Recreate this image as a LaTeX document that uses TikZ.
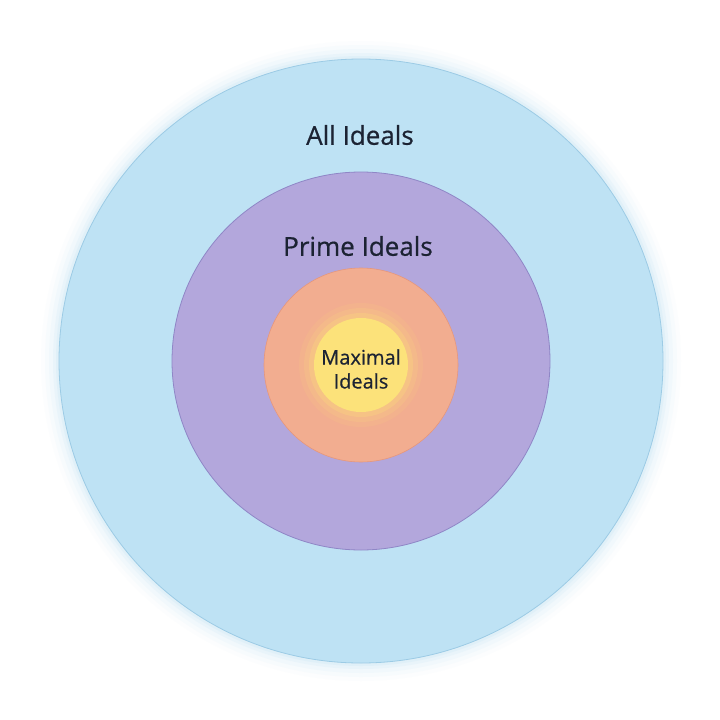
\documentclass[tikz,border=0pt]{standalone}
\usepackage{fontspec}
\setmainfont{Open Sans}[FakeBold=0.6]
\newfontfamily\lblfont{Open Sans}[FakeBold=0.6]
\definecolor{outerfill}{HTML}{BEE2F4}
\definecolor{outerline}{HTML}{9CCBE5}
\definecolor{primefill}{HTML}{B3A7DC}
\definecolor{primeline}{HTML}{8F86C6}
\definecolor{orangefill}{HTML}{F2AD90}
\definecolor{orangeline}{HTML}{E6977C}
\definecolor{yellowfill}{HTML}{FCE27A}
\definecolor{textcol}{HTML}{1C2333}
\begin{document}
\begin{tikzpicture}[x=1pt,y=-1pt,
  lbl/.style={text=textcol,inner sep=0pt,align=center}]
\useasboundingbox (0,0) rectangle (720,720);
\fill[white] (0,0) rectangle (720,720);
% glow
\foreach \r/\o in {320/0.04,316/0.07,312/0.1,308/0.15,305/0.2}{
  \fill[outerfill,opacity=\o] (361,361) circle (\r);
}
\filldraw[fill=outerfill,draw=outerline,line width=0.8pt] (361,361) circle (302);
\filldraw[fill=primefill,draw=primeline,line width=0.8pt] (361,361) circle (189);
\filldraw[fill=orangefill,draw=orangeline,line width=0.6pt] (361,365) circle (97);
\foreach \r/\o in {62/0.1,57/0.15,52/0.25}{
  \fill[yellowfill,opacity=\o] (361,365) circle (\r);
}
\fill[yellowfill] (361,365) circle (47);
\node[lbl,font=\lblfont\fontsize{26}{30}\selectfont] (all) at (360,135) {All Ideals};
\node[lbl,font=\lblfont\fontsize{26}{30}\selectfont] (prime) at (358,246) {Prime Ideals};
\node[lbl,font=\lblfont\fontsize{20}{24}\selectfont] (max) at (361,369) {Maximal\\Ideals};
\end{tikzpicture}
\end{document}
